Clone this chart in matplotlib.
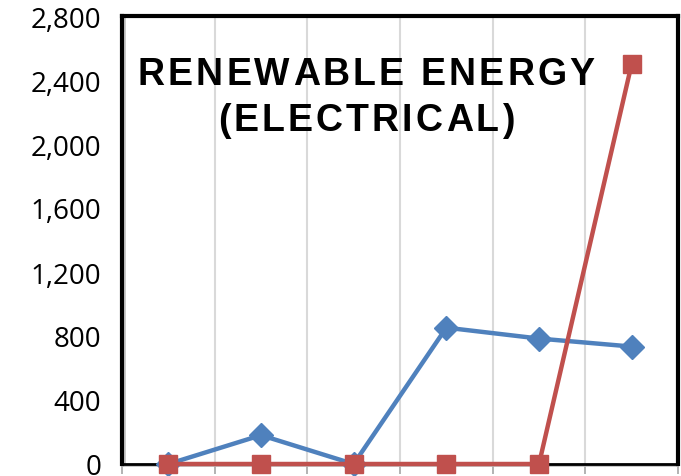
import matplotlib.pyplot as plt
from matplotlib.ticker import FuncFormatter
from matplotlib.font_manager import FontProperties, findfont
from matplotlib.ft2font import FT2Font

cats = [0, 1, 2, 3, 4, 5]
blue_vals = [0, 180, 0, 852, 784, 734]
red_vals = [0, 0, 0, 0, 0, 2500]
yticks = [0, 400, 800, 1200, 1600, 2000, 2400, 2800]
title_lines = ['RENEWABLE ENERGY', '(ELECTRICAL)']

plt.rcParams['font.family'] = ['Liberation Sans', 'DejaVu Sans']

fig = plt.figure(figsize=(6.81, 4.77), dpi=100)
ax = fig.add_axes([122 / 681, 12 / 477, 556 / 681, 448 / 477])

ax.plot(cats, blue_vals, color='#4f81bd', lw=3.2, marker='D', markersize=12,
        zorder=3, clip_on=False)
ax.plot(cats, red_vals, color='#c0504d', lw=3.2, marker='s', markersize=13,
        zorder=4, clip_on=False)

ax.set_xlim(-0.5, 5.5)
ax.set_ylim(0, 2800)
ax.set_yticks(yticks)
ax.yaxis.set_major_formatter(FuncFormatter(lambda v, p: f'{int(v):,}'))
ax.tick_params(axis='y', length=0, pad=15, labelsize=20)
for lab in ax.get_yticklabels():
    lab.set_family(['Open Sans', 'DejaVu Sans'])

ax.set_xticks([i + 0.5 for i in range(-1, 6)])
ax.set_xticklabels([])
ax.tick_params(axis='x', length=7, width=1.2, color='#a6a6a6', direction='out')

for g in [0.5, 1.5, 2.5, 3.5, 4.5]:
    ax.axvline(g, color='#d9d9d9', lw=1.5, zorder=1)

for s in ['top', 'right', 'left']:
    ax.spines[s].set_linewidth(3)
    ax.spines[s].set_color('black')
ax.spines['bottom'].set_linewidth(2)
ax.spines['bottom'].set_color('black')
# thin grey lines alongside the left and bottom borders
ax.plot([0.006, 0.006], [0, 1], transform=ax.transAxes, color='#bfbfbf',
        lw=1.2, zorder=2, clip_on=False)
ax.plot([0, 1], [-0.005, -0.005], transform=ax.transAxes, color='#bfbfbf',
        lw=1.2, zorder=2, clip_on=False)

# letter-spaced title, placed character by character using glyph advances
fsize = 27
spacing = 3.1  # extra pixels between letters
fp = FontProperties(family='Liberation Sans', weight='bold', size=fsize)
ft = FT2Font(findfont(fp))
ft.set_size(fsize, 100)
centers_y = [75, 121]
for line, cy in zip(title_lines, centers_y):
    advs = [ft.load_char(ord(ch)).linearHoriAdvance / 65536 for ch in line]
    total = sum(advs) + spacing * (len(line) - 1)
    x = 366 - total / 2
    for ch, a in zip(line, advs):
        if ch != ' ':
            fig.text(x / 681, 1 - cy / 477, ch, fontproperties=fp, ha='left',
                     va='center', zorder=5)
        x += a + spacing

fig.savefig('out.png', dpi=100)
